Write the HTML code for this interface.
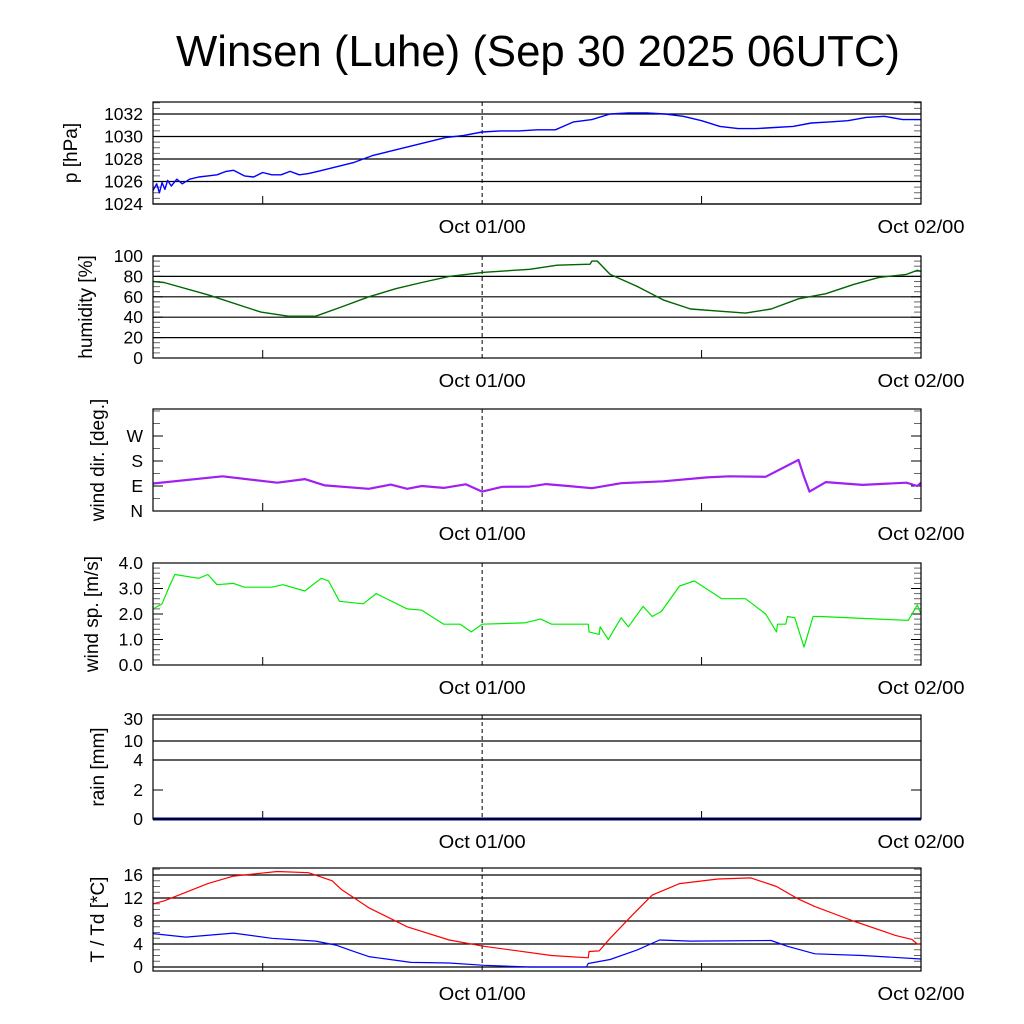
<!DOCTYPE html>
<html><head><meta charset="utf-8"><style>
html,body{margin:0;padding:0;background:#fff;}
svg{display:block;font-family:"Liberation Sans",sans-serif;}
</style></head><body>
<svg id="chart" width="1024" height="1024" viewBox="0 0 1024 1024">
<rect width="1024" height="1024" fill="#fff"/>
<text x="538" y="66" font-size="44" text-anchor="middle" textLength="724" lengthAdjust="spacingAndGlyphs">Winsen (Luhe) (Sep 30 2025 06UTC)</text>
</svg>
<script>
// time axis: hours since Sep 30 06UTC
const xTickLabels = ["Oct 01/00", "Oct 02/00"];
const xTickHours = [18, 42];
const pressT = [0,0.2,0.35,0.5,0.65,0.8,1.0,1.3,1.6,2,2.5,3,3.5,4,4.4,5,5.5,6,6.5,7,7.5,8,8.5,9,10,11,12,13,14,15,16,17,18,19,20,21,22,23,24,25,26,27,28,29,30,31,32,33,34,35,36,37,38,39,40,41,42];
const pressV = [1025.2,1025.8,1025.0,1025.9,1025.3,1026.1,1025.6,1026.2,1025.8,1026.2,1026.4,1026.5,1026.6,1026.9,1027.0,1026.5,1026.4,1026.8,1026.6,1026.6,1026.9,1026.6,1026.7,1026.9,1027.3,1027.7,1028.3,1028.7,1029.1,1029.5,1029.9,1030.1,1030.4,1030.5,1030.5,1030.6,1030.6,1031.3,1031.5,1032.0,1032.1,1032.1,1032.0,1031.8,1031.4,1030.9,1030.7,1030.7,1030.8,1030.9,1031.2,1031.3,1031.4,1031.7,1031.8,1031.5,1031.5];
const humT = [0,0.6,3.0,5.9,7.4,8.9,10.3,11.8,13.3,14.7,16.2,18.1,20.6,22.1,23.9,24.0,24.3,25.0,26.5,27.9,29.4,30.9,32.4,33.8,35.3,36.8,38.3,39.7,41.2,41.8,42];
const humV = [75,74,62,45,41,41,50,60,68,74,80,84,87,91,92,95,95,82,70,57,48,46,44,48,58,63,72,79,82,86,85];
const dirT = [0,3.8,6.8,8.3,9.4,11.8,13.0,13.9,14.7,15.9,17.1,18.0,19.1,20.6,21.5,22.7,24.0,25.6,27.9,30.3,31.5,33.5,35.3,35.6,35.9,36.8,38.8,41.2,41.8,42];
const dirV = [99,125,102,115,92,80,95,80,90,83,96,70,87,88,97,90,82,100,107,121,125,123,184,123,70,104,94,102,90,102];
const spdT = [0,0.5,0.9,1.2,2.5,3.0,3.5,4.4,5.0,6.5,7.1,8.3,9.2,9.6,10.2,11.5,12.2,13.9,14.7,15.9,16.8,17.4,18.0,20.3,21.2,21.8,23.8,23.85,24.4,24.45,24.9,25.6,26.0,26.8,27.3,27.8,28.8,29.6,31.1,32.4,33.5,34.1,34.15,34.6,34.7,35.1,35.6,36.1,36.5,41.3,41.8,42];
const spdV = [2.2,2.4,3.1,3.55,3.4,3.55,3.15,3.2,3.05,3.05,3.15,2.9,3.4,3.3,2.5,2.4,2.8,2.2,2.15,1.6,1.6,1.3,1.6,1.65,1.8,1.6,1.6,1.3,1.2,1.5,1.0,1.85,1.5,2.3,1.9,2.1,3.1,3.3,2.6,2.6,2.0,1.3,1.6,1.6,1.9,1.85,0.7,1.9,1.9,1.75,2.35,2.0];
const tempT = [0,0.6,3.0,4.4,6.8,8.5,9.8,10.3,11.8,13.9,16.2,18.1,21.8,23.8,23.85,24.4,25.0,26.2,27.3,28.8,30.9,32.7,34.1,35.3,36.2,38.3,40.6,41.5,41.8,42];
const tempV = [11,11.5,14.5,15.8,16.6,16.4,15,13.5,10.3,7,4.7,3.6,2,1.6,2.7,2.8,5,9,12.5,14.5,15.3,15.5,14,11.8,10.5,8,5.5,4.8,4,4];
const dewT = [0,1.8,4.4,6.5,8.9,10.0,10.9,11.8,14.1,16.2,18.1,20.6,23.7,23.8,25.0,26.5,27.7,29.4,33.8,34.7,36.2,38.8,42];
const dewV = [5.8,5.2,5.9,5.0,4.5,3.8,2.8,1.8,0.8,0.7,0.3,0,0,0.6,1.3,3.0,4.7,4.5,4.6,3.6,2.3,2.0,1.4];
const rainT = [0,42];
const rainV = [0,0];

const NS="http://www.w3.org/2000/svg";
const svg=document.getElementById('chart');
const X0=153,X1=921,HMAX=42;
function xs(h){return X0+(X1-X0)*h/HMAX;}
function mk(tag,attrs,parent){const e=document.createElementNS(NS,tag);for(const k in attrs)e.setAttribute(k,attrs[k]);(parent||svg).appendChild(e);return e;}

function panel(cfg){
  const g=mk('g',{});
  
  
  const ys=cfg.ys;
  cfg.grid.forEach(v=>{const y=ys(v);const l=mk('line',{x1:X0,x2:X1,y1:y,y2:y,stroke:'#000','stroke-width':1.2},g);
    
    });
  (cfg.minor||[]).forEach(v=>{const y=ys(v);
    mk('line',{x1:X0,x2:X0+7,y1:y,y2:y,stroke:'#666','stroke-width':1},g);
    mk('line',{x1:X1-7,x2:X1,y1:y,y2:y,stroke:'#666','stroke-width':1},g);});
  cfg.labels.forEach((lab,i)=>{const y=ys(cfg.labelVals[i]);
    mk('line',{x1:X0,x2:X0+10,y1:y,y2:y,stroke:'#000'},g);mk('line',{x1:X1-10,x2:X1,y1:y,y2:y,stroke:'#000'},g);
    const t=mk('text',{x:X0-10,y:y+6,'font-size':17.5,'text-anchor':'end'},g);t.textContent=lab;
    
    });
  [6,30].forEach(h=>mk('line',{x1:xs(h),x2:xs(h),y1:cfg.bot,y2:cfg.bot-8,stroke:'#000'},g));
  const dl=mk('line',{x1:xs(18),x2:xs(18),y1:cfg.top,y2:cfg.bot,stroke:'#000','stroke-dasharray':'4,3'},g);
  
  
  xTickLabels.forEach((lab,i)=>{const t=mk('text',{x:xs(xTickHours[i]),y:cfg.bot+29,'font-size':18.5,'text-anchor':'middle',textLength:87,lengthAdjust:'spacingAndGlyphs'},g);t.textContent=lab;
    
    });
  cfg.series.forEach(s=>{
    const d=s.t.map((h,i)=>(i?'L':'M')+xs(h).toFixed(1)+','+ys(s.v[i]).toFixed(1)).join('');
    const p=mk('path',{d:d,fill:'none',stroke:s.color,'stroke-width':s.w||1.4,'stroke-linejoin':'round'},g);
    
    
  });
  const fr=mk('rect',{x:X0,y:cfg.top,width:X1-X0,height:cfg.bot-cfg.top,fill:'none',stroke:'#000','stroke-width':1.2},g);
  
  
  const cy=(cfg.top+cfg.bot)/2;
  const yt=mk('text',{x:0,y:0,'font-size':19,'text-anchor':'middle',transform:`translate(${cfg.lx||104},${cy}) rotate(-90)`},g);
  yt.textContent=cfg.title;
  
  
}
function lin(v0,y0,v1,y1){return v=>y0+(v-v0)*(y1-y0)/(v1-v0);}
function range(a,b,s){const r=[];for(let v=a;v<=b+1e-9;v+=s)r.push(v);return r;}

panel({name:'pressure',top:102,bot:204,ys:lin(1024,204,1032,114),grid:[1024,1026,1028,1030,1032],minor:range(1024,1033,0.5),
  labels:['1024','1026','1028','1030','1032'],labelVals:[1024,1026,1028,1030,1032],title:'p [hPa]',lx:77,
  series:[{name:'pressure-line',t:pressT,v:pressV,color:'#0000ff'}]});
panel({name:'humidity',top:256,bot:358,ys:lin(0,358,100,256),grid:[20,40,60,80,100],minor:range(0,100,5),
  labels:['0','20','40','60','80','100'],labelVals:[0,20,40,60,80,100],title:'humidity [%]',lx:92,
  series:[{name:'humidity-line',t:humT,v:humV,color:'#006400'}]});
panel({name:'wind-direction',top:409,bot:511,ys:lin(0,511,90,486),grid:[],minor:range(0,360,45),
  labels:['N','E','S','W'],labelVals:[0,90,180,270],title:'wind dir. [deg.]',lx:104,
  series:[{name:'wind-direction-line',t:dirT,v:dirV,color:'#a020f0',w:2.2}]});
panel({name:'wind-speed',top:563,bot:665,ys:lin(0,665,4,563),grid:[],minor:range(0,4,0.2),
  labels:['0.0','1.0','2.0','3.0','4.0'],labelVals:[0,1,2,3,4],title:'wind sp. [m/s]',lx:98,
  series:[{name:'wind-speed-line',t:spdT,v:spdV,color:'#00ee00',w:1.2}]});
const rainLabels=['0','2','4','10','30'];
const rainLabelVals=[0,2,4,10,30];
const rainPx=[819,790,760,741,719];
function rainY(v){for(let i=1;i<rainLabelVals.length;i++){if(v<=rainLabelVals[i]){const a=rainLabelVals[i-1],b=rainLabelVals[i];return rainPx[i-1]+(v-a)*(rainPx[i]-rainPx[i-1])/(b-a);}}return rainPx[rainPx.length-1];}
panel({name:'rain',top:715,bot:819,ys:rainY,grid:[4,10,30],minor:[],
  labels:rainLabels,labelVals:rainLabelVals,title:'rain [mm]',lx:104,
  series:[{name:'rain-line',t:rainT,v:rainV,color:'#00008b',w:3}]});
panel({name:'temperature',top:868,bot:971,ys:lin(0,967,16,875),grid:[0,4,8,12,16],minor:range(0,17,1),
  labels:['0','4','8','12','16'],labelVals:[0,4,8,12,16],title:'T / Td [*C]',lx:104,
  series:[{name:'temperature-line',t:tempT,v:tempV,color:'#ff0000',w:1.2},{name:'dewpoint-line',t:dewT,v:dewV,color:'#0000ff',w:1.2}]});
</script>
</body></html>
